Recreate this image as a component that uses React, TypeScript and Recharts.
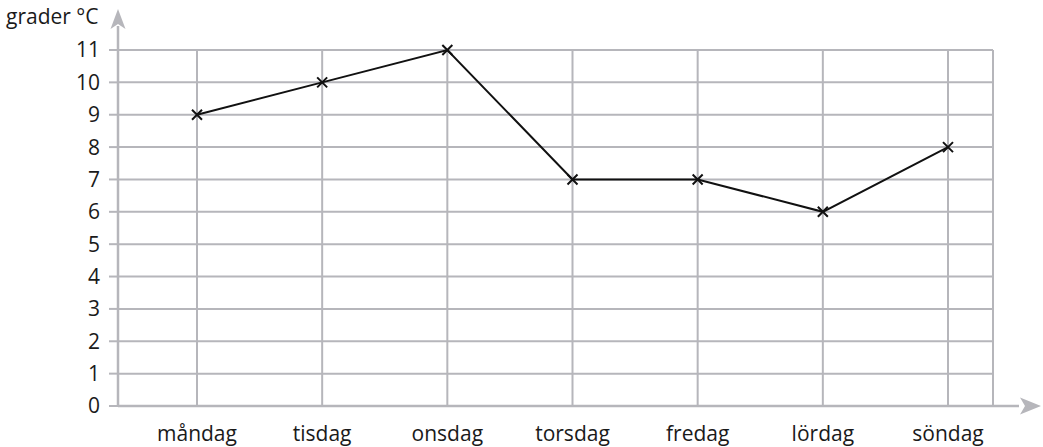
import { CartesianGrid, Line, LineChart, XAxis, YAxis } from "recharts";

const days = ["måndag", "tisdag", "onsdag", "torsdag", "fredag", "lördag", "söndag"];
const temps = [9, 10, 11, 7, 7, 6, 8];
const yTicks = [0, 1, 2, 3, 4, 5, 6, 7, 8, 9, 10, 11];
const yTitle = "grader °C";

const data = days.map((day, i) => ({ day, temp: temps[i] }));

const GRID = "#b6b6bb";
const TEXT = "#1a1a1a";
const FONT = "'Open Sans', sans-serif";

// x-shaped marker
function Cross(props: any) {
  const { cx, cy, index } = props;
  const s = 5;
  return (
    <path
      key={`cross-${index}`}
      d={`M${cx - s},${cy - s}L${cx + s},${cy + s}M${cx - s},${cy + s}L${cx + s},${cy - s}`}
      stroke="#111"
      strokeWidth={2}
      fill="none"
    />
  );
}

// arrow on top of the y axis + the unit title
function YArrow(props: any) {
  const { x, y, width } = props.viewBox;
  const ax = x + width;
  return (
    <g>
      <line x1={ax} y1={y} x2={ax} y2={y - 24} stroke={GRID} strokeWidth={2.5} />
      <path
        d={`M${ax},${y - 41}L${ax + 7.5},${y - 21}L${ax},${y - 26}L${ax - 7.5},${y - 21}Z`}
        fill={GRID}
      />
      <text x={x + 6} y={y - 26} fill={TEXT} fontSize={21} fontFamily={FONT}>
        {yTitle}
      </text>
    </g>
  );
}

// arrow at the right end of the x axis
function XArrow(props: any) {
  const { x, y, width } = props.viewBox;
  const ex = x + width;
  return (
    <g>
      <line x1={ex} y1={y} x2={ex + 26} y2={y} stroke={GRID} strokeWidth={2.5} />
      <path
        d={`M${ex + 48},${y}L${ex + 27},${y - 8.5}L${ex + 32},${y}L${ex + 27},${y + 8.5}Z`}
        fill={GRID}
      />
    </g>
  );
}

export default function App() {
  return (
    <div style={{ position: "absolute", left: 0, top: 0, background: "#fff" }}>
      <LineChart
        width={1043}
        height={447}
        data={data}
        margin={{ top: 50, right: 50, bottom: 0, left: 0 }}
      >
        <CartesianGrid stroke={GRID} strokeWidth={2} />
        <XAxis
          dataKey="day"
          height={41}
          interval={0}
          padding={{ left: 79, right: 45 }}
          tickLine={false}
          tickSize={0}
          tickMargin={20}
          axisLine={{ stroke: GRID, strokeWidth: 2.5 }}
          tick={{ fill: TEXT, fontSize: 21, fontFamily: FONT }}
          label={(p: any) => <XArrow {...p} />}
        />
        <YAxis
          width={118}
          domain={[0, 11]}
          ticks={yTicks}
          interval={0}
          tickSize={9}
          tickMargin={9}
          tickLine={{ stroke: GRID, strokeWidth: 2 }}
          axisLine={{ stroke: GRID, strokeWidth: 2.5 }}
          tick={{ fill: TEXT, fontSize: 21, fontFamily: FONT }}
          label={(p: any) => <YArrow {...p} />}
        />
        <Line
          dataKey="temp"
          type="linear"
          stroke="#111"
          strokeWidth={2}
          dot={(p: any) => <Cross {...p} />}
          activeDot={false}
          isAnimationActive={false}
        />
      </LineChart>
    </div>
  );
}
